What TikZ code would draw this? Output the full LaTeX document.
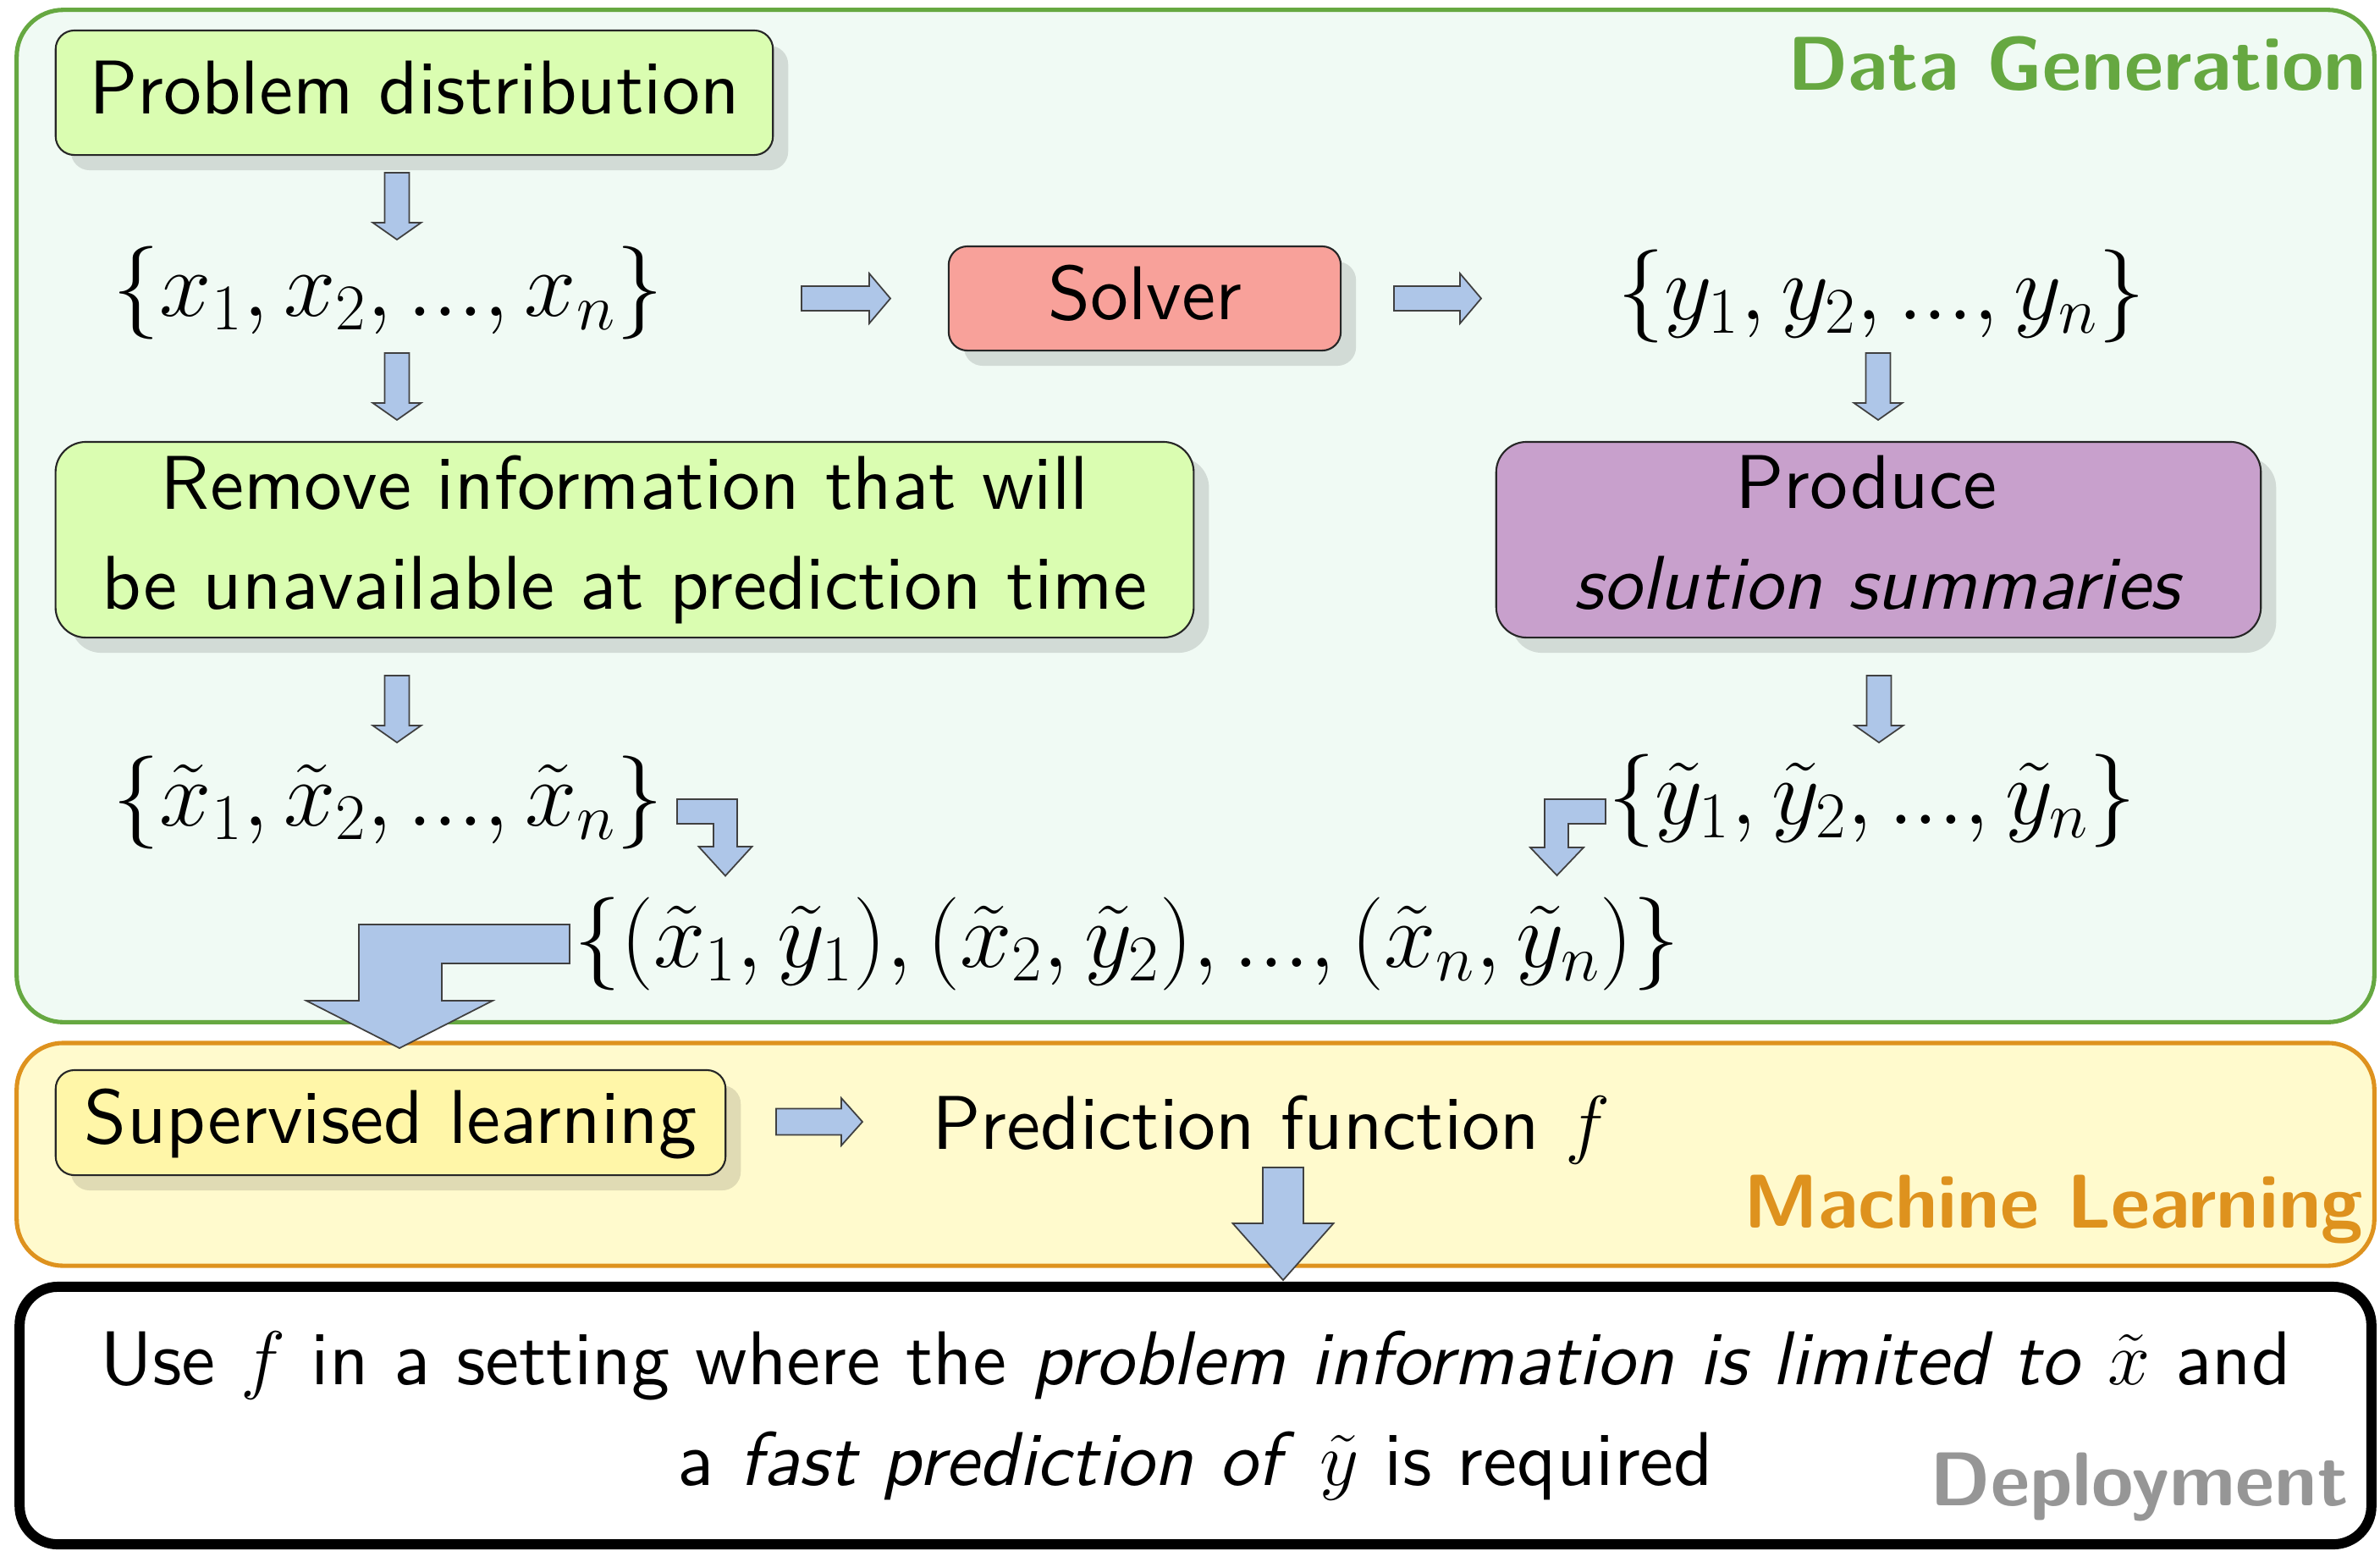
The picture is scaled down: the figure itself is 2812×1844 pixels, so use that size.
\documentclass[tikz,border=0pt]{standalone}
\usepackage{fontspec}
\setsansfont{lmsans10-regular.otf}[BoldFont=lmsans10-bold.otf,ItalicFont=lmsans10-oblique.otf,BoldItalicFont=lmsans10-boldoblique.otf]
\DeclareFontShape{OML}{cmm}{m}{it}{<-6>cmmi5<6-7>cmmi6<7-8>cmmi7<8-9>cmmi8<9-10>cmmi9<10-12>cmmi10<12->cmmi12}{}
\DeclareFontShape{OMS}{cmsy}{m}{n}{<-6>cmsy5<6-7>cmsy6<7-8>cmsy7<8-9>cmsy8<9-10>cmsy9<10->cmsy10}{}
\DeclareFontShape{OMX}{cmex}{m}{n}{<->cmex10}{}
\DeclareFontShape{OT1}{cmr}{m}{n}{<-6>cmr5<6-7>cmr6<7-8>cmr7<8-9>cmr8<9-10>cmr9<10-12>cmr10<12-17>cmr12<17->cmr17}{}
\usetikzlibrary{shadows}
\definecolor{dgGreen}{RGB}{102,168,65}
\definecolor{dgFill}{RGB}{240,250,244}
\definecolor{limeFill}{RGB}{218,253,177}
\definecolor{salmonFill}{RGB}{248,161,154}
\definecolor{purpleFill}{RGB}{200,160,204}
\definecolor{mlOrange}{RGB}{222,146,30}
\definecolor{mlFill}{RGB}{255,250,205}
\definecolor{slFill}{RGB}{255,246,168}
\definecolor{arrowFill}{RGB}{174,198,232}
\definecolor{depGray}{RGB}{150,150,150}
\newcommand\downarr[5]{\draw[barrow,shift={(#1)}] (-#2,0) -- (#2,0) -- (#2,#3) -- (#4,#3) -- (0,#3+#5) -- (-#4,#3) -- (-#2,#3) -- cycle;}
\newcommand\rightarr[5]{\draw[barrow,shift={(#1)}] (0,-#2) -- (#3,-#2) -- (#3,-#4) -- (#3+#5,0) -- (#3,#4) -- (#3,#2) -- (0,#2) -- cycle;}
\tikzset{
  txt/.style={font=\sffamily\fontsize{25.6}{33.6}\selectfont, inner sep=0pt},
  mth/.style={font=\fontsize{31.3}{37}\selectfont, inner sep=0pt, anchor=base},
  stepbox/.style={draw=black!85, line width=0.6pt, txt,
    drop shadow={shadow xshift=0.18cm, shadow yshift=-0.18cm, fill=black, opacity=0.12}},
  onebox/.style={stepbox, rounded corners=0.22cm, text height=19.2pt, text depth=5.1pt},
  twobox/.style={stepbox, rounded corners=0.36cm, align=center},
  container/.style={line width=1.45pt, rounded corners=0.55cm, minimum width=27.84cm},
  barrow/.style={fill=arrowFill, draw=black!75, line width=0.5pt, line join=miter},
  title/.style={font=\sffamily\bfseries\fontsize{25.6}{30}\selectfont, inner sep=0pt, anchor=base east},
}
\begin{document}
\begin{tikzpicture}[x=0.01cm,y=-0.01cm]
\useasboundingbox (0,0) rectangle (2812,1844);
% containers
\node[container, draw=dgGreen, fill=dgFill, minimum height=11.95cm] (dg) at (1412.5,609.5) {};
\node[container, draw=mlOrange, fill=mlFill, minimum height=2.63cm] (ml) at (1412.5,1363.5) {};
\node[txt, align=center, draw=black, line width=3.4pt, rounded corners=0.45cm, fill=white,
      minimum width=27.77cm, minimum height=3.04cm] (dep) at (1412.5,1672)
  {Use $f$ in a setting where the \textit{problem information is limited to} $\tilde{x}$ and\\
   a \textit{fast prediction of} $\tilde{y}$ is required};
% titles
\node[title, text=dgGreen] (dgt) at (2797,106) {Data Generation};
\node[title, text=mlOrange] (mlt) at (2793,1450) {Machine Learning};
\node[title, text=depGray] (dpt) at (2775,1778) {Deployment};
% boxes
\node[onebox, fill=limeFill, minimum width=8.47cm, minimum height=1.47cm] (prob) at (489.5,109.5) {Problem distribution};
\node[onebox, fill=salmonFill, minimum width=4.63cm, minimum height=1.23cm] (solver) at (1352.5,352.5) {Solver};
\node[twobox, fill=limeFill, minimum width=13.44cm, minimum height=2.31cm] (remove) at (738,637.5)
  {Remove information that will\\ be unavailable at prediction time};
\node[twobox, fill=purpleFill, minimum width=9.03cm, minimum height=2.31cm] (produce) at (2219.5,637.5)
  {Produce\hbox to 0.33em{}\\ \textit{solution summaries}\vphantom{p}};
\node[onebox, fill=slFill, minimum width=7.91cm, minimum height=1.24cm] (superv) at (461.5,1326) {Supervised learning};
% math sets
\node[mth] (xs) at (458.5,373) {$\{x_1, x_2, ..., x_n\}$};
\node[mth] (ys) at (2223,377) {$\{y_1, y_2, ..., y_n\}$};
\node[mth] (xts) at (458.5,975) {$\{\tilde{x}_1, \tilde{x}_2, ..., \tilde{x}_n\}$};
\node[mth] (yts) at (2212,973) {$\{\tilde{y}_1, \tilde{y}_2, ..., \tilde{y}_n\}$};
\node[mth] (pairs) at (1331.5,1142) {$\{(\tilde{x}_1, \tilde{y}_1), (\tilde{x}_2, \tilde{y}_2), ..., (\tilde{x}_n, \tilde{y}_n)\}$};
\node[txt, anchor=base] (pf) at (1502,1357) {Prediction function $f$};
% arrow anchors
\coordinate (a1) at (469,204);
\coordinate (a2) at (469,417);
\coordinate (a3) at (2219,417);
\coordinate (a4) at (469,798);
\coordinate (a5) at (2220,798);
\coordinate (a6) at (1516,1379);
\coordinate (r1) at (947,352.5);
\coordinate (r2) at (1647,352.5);
\coordinate (r3) at (917,1325);
\coordinate (c1) at (871,944);
\coordinate (c2) at (1825,944);
\coordinate (c3) at (673,1092);
% straight arrows
\downarr{a1}{14.5}{59}{28.5}{20}
\downarr{a2}{14.5}{59}{28.5}{20}
\downarr{a3}{14.5}{59}{28.5}{20}
\downarr{a4}{14.5}{59}{28.5}{20}
\downarr{a5}{14.5}{59}{28.5}{20}
\rightarr{r1}{14.5}{80}{29.5}{25}
\rightarr{r2}{14.5}{78}{29.5}{25}
\rightarr{r3}{15.5}{77}{28}{25}
\downarr{a6}{24}{66}{59.5}{67}
% corner arrows
\draw[barrow,shift={(c1)}] (-71,0) -- (0,0) -- (0,56) -- (17.5,56) -- (-14,90.5) -- (-45.5,56) -- (-28,56) -- (-28,29) -- (-71,29) -- cycle;
\draw[barrow,shift={(c2)}] (72,0) -- (0,0) -- (0,57) -- (-17,57) -- (14.5,90) -- (46,57) -- (28,57) -- (28,29) -- (72,29) -- cycle;
\draw[barrow,shift={(c3)}] (0,0) -- (-249,0) -- (-249,90) -- (-311,90) -- (-201,146) -- (-91,90) -- (-151,90) -- (-151,46) -- (0,46) -- cycle;
\end{tikzpicture}
\end{document}
